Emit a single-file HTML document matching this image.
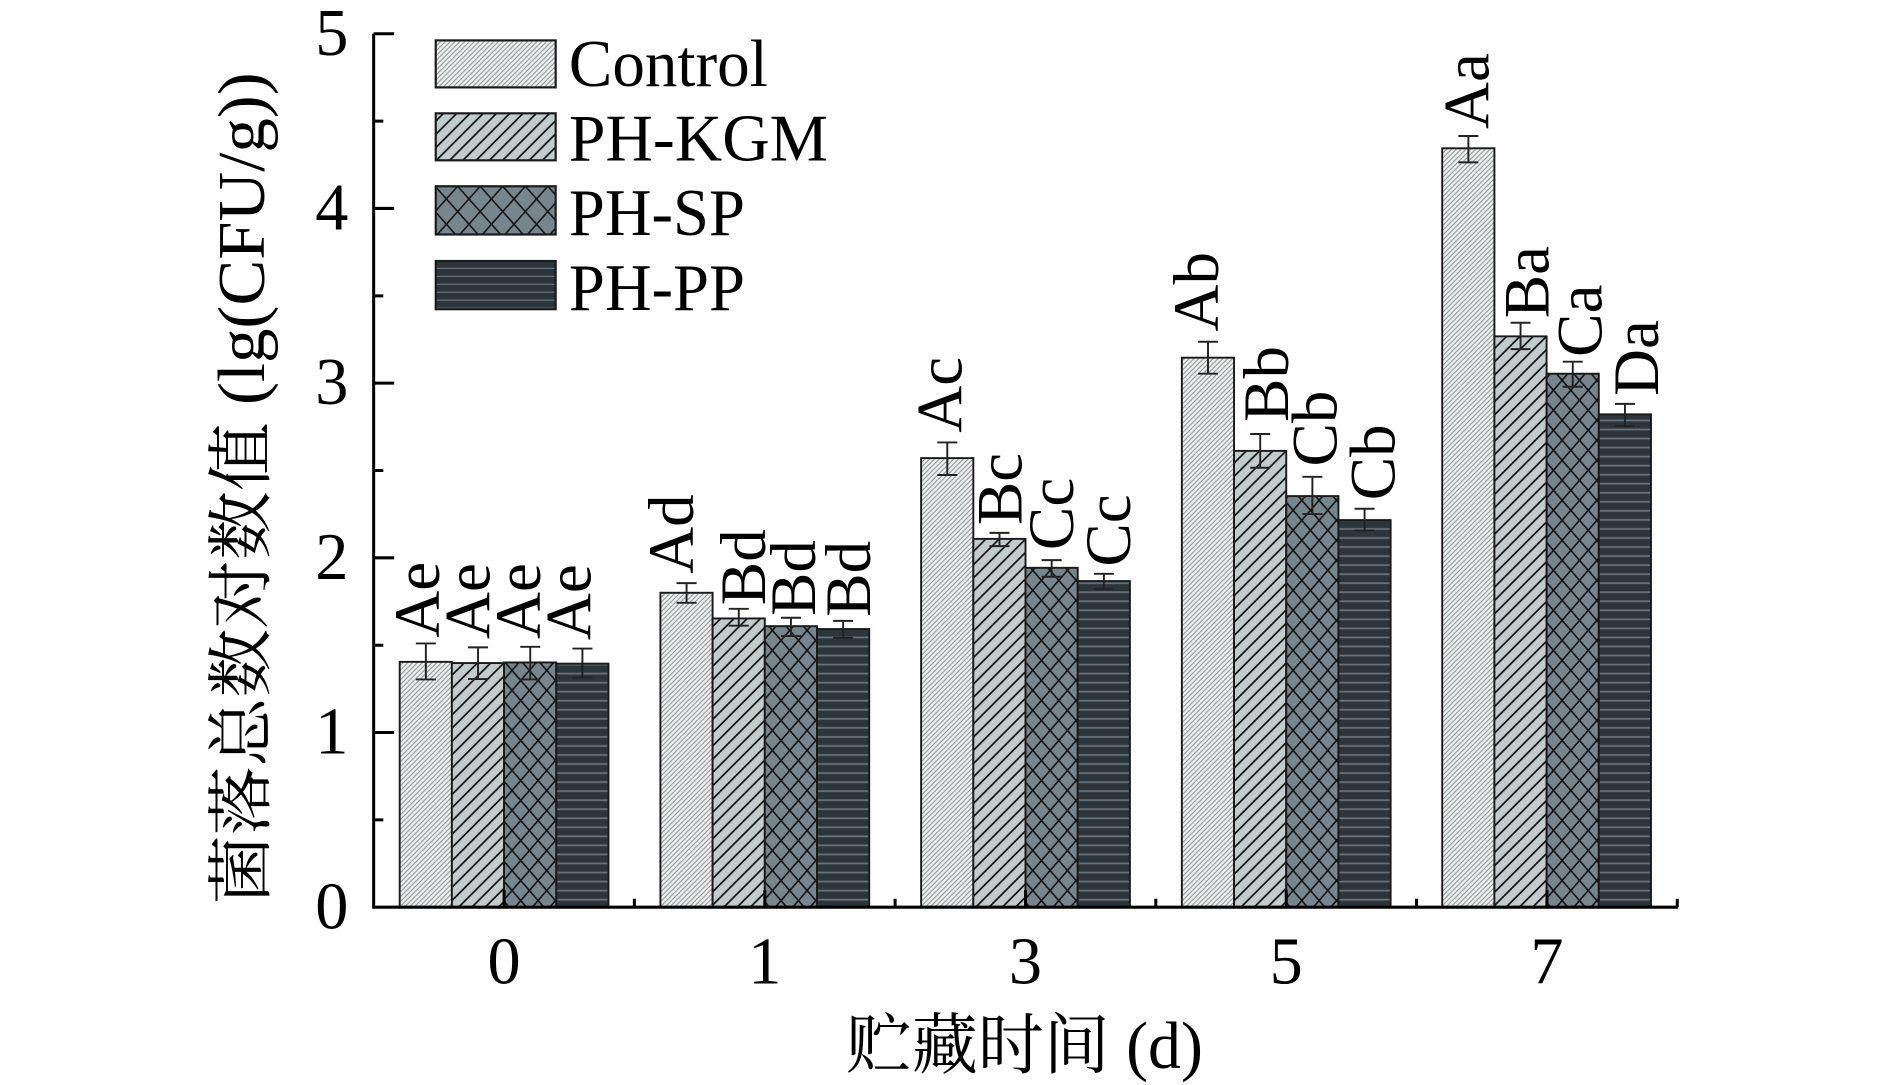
<!DOCTYPE html>
<html>
<head>
<meta charset="utf-8">
<style>
  html, body { margin:0; padding:0; background:#ffffff; }
  svg { display:block; }
  text { font-family: "Liberation Serif", "Noto Serif CJK SC", serif; fill:#000; }
</style>
</head>
<body>
<svg xmlns="http://www.w3.org/2000/svg" width="1890" height="1085" viewBox="0 0 1568 900" preserveAspectRatio="none">
  <defs>
    <pattern id="pCtrl" patternUnits="userSpaceOnUse" width="4" height="4">
      <rect width="4" height="4" fill="#eceeee"/>
      <path d="M0,4 L4,0 M-1,1 L1,-1 M3,5 L5,3" stroke="#8a9292" stroke-width="0.8"/>
    </pattern>
    <pattern id="pKgm" patternUnits="userSpaceOnUse" width="11" height="11">
      <rect width="11" height="11" fill="#c3cccc"/>
      <path d="M0,11 L11,0 M-2,2 L2,-2 M9,13 L13,9" stroke="#111" stroke-width="1.4"/>
    </pattern>
    <pattern id="pSp" patternUnits="userSpaceOnUse" width="14.4" height="16.6">
      <rect width="14.4" height="16.6" fill="#76868c"/>
      <path d="M0,0 L14.4,16.6 M14.4,0 L0,16.6" stroke="#111" stroke-width="1.3"/>
    </pattern>
    <pattern id="pPp" patternUnits="userSpaceOnUse" width="10" height="7.5">
      <rect width="10" height="7.5" fill="#2c353a"/>
      <rect y="3" width="10" height="1.5" fill="#66727a"/>
    </pattern>
    <pattern id="pSpL" patternUnits="userSpaceOnUse" width="18.7" height="21" x="361" y="154.5">
      <rect width="18.7" height="21" fill="#76868c"/>
      <path d="M0,0 L18.7,21 M18.7,0 L0,21" stroke="#111" stroke-width="1.3"/>
    </pattern>
    <pattern id="pPpL" patternUnits="userSpaceOnUse" width="10" height="6.6" x="0" y="216.5">
      <rect width="10" height="6.6" fill="#2c353a"/>
      <rect y="5.6" width="10" height="1.3" fill="#66727a"/>
    </pattern>
  </defs>

  <!-- Bars -->
  <g stroke="#1a1a1a" stroke-width="1.6">
    <!-- group 0 -->
    <rect x="331.6" y="549" width="43.3" height="203.5" fill="url(#pCtrl)"/>
    <rect x="374.9" y="550" width="43.3" height="202.5" fill="url(#pKgm)"/>
    <rect x="418.2" y="549.5" width="43.3" height="203" fill="url(#pSp)"/>
    <rect x="461.5" y="550.5" width="43.3" height="202" fill="url(#pPp)"/>
    <!-- group 1 -->
    <rect x="547.9" y="491.7" width="43.3" height="260.8" fill="url(#pCtrl)"/>
    <rect x="591.2" y="513" width="43.3" height="239.5" fill="url(#pKgm)"/>
    <rect x="634.5" y="519.4" width="43.3" height="233.1" fill="url(#pSp)"/>
    <rect x="677.8" y="521.8" width="43.3" height="230.7" fill="url(#pPp)"/>
    <!-- group 3 -->
    <rect x="764.2" y="380" width="43.3" height="372.5" fill="url(#pCtrl)"/>
    <rect x="807.5" y="447" width="43.3" height="305.5" fill="url(#pKgm)"/>
    <rect x="850.8" y="471" width="43.3" height="281.5" fill="url(#pSp)"/>
    <rect x="894.1" y="482" width="43.3" height="270.5" fill="url(#pPp)"/>
    <!-- group 5 -->
    <rect x="980.5" y="296.7" width="43.3" height="455.8" fill="url(#pCtrl)"/>
    <rect x="1023.8" y="374" width="43.3" height="378.5" fill="url(#pKgm)"/>
    <rect x="1067.1" y="411.5" width="43.3" height="341" fill="url(#pSp)"/>
    <rect x="1110.4" y="431.4" width="43.3" height="321.1" fill="url(#pPp)"/>
    <!-- group 7 -->
    <rect x="1196.5" y="123" width="43.3" height="629.5" fill="url(#pCtrl)"/>
    <rect x="1239.8" y="279" width="43.3" height="473.5" fill="url(#pKgm)"/>
    <rect x="1283.1" y="310" width="43.3" height="442.5" fill="url(#pSp)"/>
    <rect x="1326.4" y="343.7" width="43.3" height="408.8" fill="url(#pPp)"/>
  </g>

  <!-- Error bars -->
  <g stroke="#222" stroke-width="1.6" fill="none">
    <path d="M353.3,533.7 V563.6 M345,533.7 H361.6 M345,563.6 H361.6"/>
    <path d="M396.6,537 V563.3 M388.3,537 H404.9 M388.3,563.3 H404.9"/>
    <path d="M439.9,536.5 V563.6 M431.6,536.5 H448.2 M431.6,563.6 H448.2"/>
    <path d="M483.2,538 V562 M474.9,538 H491.5 M474.9,562 H491.5"/>

    <path d="M569.6,483.7 V500 M561.3,483.7 H577.9 M561.3,500 H577.9"/>
    <path d="M612.9,505 V519 M604.6,505 H621.2 M604.6,519 H621.2"/>
    <path d="M656.2,512.4 V527.6 M647.9,512.4 H664.5 M647.9,527.6 H664.5"/>
    <path d="M699.5,515 V529 M691.2,515 H707.8 M691.2,529 H707.8"/>

    <path d="M785.9,367 V394 M777.6,367 H794.2 M777.6,394 H794.2"/>
    <path d="M829.2,442 V453 M820.9,442 H837.5 M820.9,453 H837.5"/>
    <path d="M872.5,464.6 V478.4 M864.2,464.6 H880.8 M864.2,478.4 H880.8"/>
    <path d="M915.8,476 V488.6 M907.5,476 H924.1 M907.5,488.6 H924.1"/>

    <path d="M1002.2,283.5 V310 M993.9,283.5 H1010.5 M993.9,310 H1010.5"/>
    <path d="M1045.5,360 V388 M1037.2,360 H1053.8 M1037.2,388 H1053.8"/>
    <path d="M1088.8,395.5 V426.4 M1080.5,395.5 H1097.1 M1080.5,426.4 H1097.1"/>
    <path d="M1132.1,422 V440 M1123.8,422 H1140.4 M1123.8,440 H1140.4"/>

    <path d="M1218.2,112.8 V134.7 M1209.9,112.8 H1226.5 M1209.9,134.7 H1226.5"/>
    <path d="M1261.5,267.7 V289.6 M1253.2,267.7 H1269.8 M1253.2,289.6 H1269.8"/>
    <path d="M1304.8,300 V320.8 M1296.5,300 H1313.1 M1296.5,320.8 H1313.1"/>
    <path d="M1348.1,335 V353.4 M1339.8,335 H1356.4 M1339.8,353.4 H1356.4"/>
  </g>

  <!-- Significance labels -->
  <g font-size="54">
    <text transform="translate(364,529) rotate(-90)">Ae</text>
    <text transform="translate(406,530) rotate(-90)">Ae</text>
    <text transform="translate(448,530) rotate(-90)">Ae</text>
    <text transform="translate(490,531) rotate(-90)">Ae</text>

    <text transform="translate(575,476) rotate(-90)">Ad</text>
    <text transform="translate(634.6,502) rotate(-90)">Bd</text>
    <text transform="translate(676,511) rotate(-90)">Bd</text>
    <text transform="translate(721.7,511.6) rotate(-90)">Bd</text>

    <text transform="translate(797.8,359) rotate(-90)">Ac</text>
    <text transform="translate(847.6,435.6) rotate(-90)">Bc</text>
    <text transform="translate(890,456.3) rotate(-90)">Cc</text>
    <text transform="translate(937.5,470) rotate(-90)">Cc</text>

    <text transform="translate(1010.6,275) rotate(-90)">Ab</text>
    <text transform="translate(1068.7,350) rotate(-90)">Bb</text>
    <text transform="translate(1109,387) rotate(-90)">Cb</text>
    <text transform="translate(1157,415) rotate(-90)">Cb</text>

    <text transform="translate(1234.7,107) rotate(-90)">Aa</text>
    <text transform="translate(1284.5,264) rotate(-90)">Ba</text>
    <text transform="translate(1328.7,296) rotate(-90)">Ca</text>
    <text transform="translate(1375.6,328.5) rotate(-90)">Da</text>
  </g>

  <!-- Axes -->
  <g stroke="#000" stroke-width="2.5" fill="none">
    <path d="M310,28 V752.5 H1392"/>
    <!-- y major ticks -->
    <path d="M310,28 H327 M310,172.9 H327 M310,317.8 H327 M310,462.7 H327 M310,607.6 H327"/>
    <!-- y minor ticks -->
    <path d="M310,100.5 H318 M310,245.4 H318 M310,390.3 H318 M310,535.2 H318 M310,680.1 H318"/>
    <!-- x major ticks -->
    <path d="M418.2,752.5 V738.5 M634.5,752.5 V738.5 M850.8,752.5 V738.5 M1067.1,752.5 V738.5 M1283.4,752.5 V738.5"/>
    <!-- x minor ticks -->
    <path d="M526.3,752.5 V745.5 M742.6,752.5 V745.5 M958.9,752.5 V745.5 M1175.2,752.5 V745.5 M1391.5,752.5 V745.5"/>
  </g>

  <!-- y tick labels -->
  <g font-size="55" text-anchor="end">
    <text x="289" y="770">0</text>
    <text x="289" y="625.1">1</text>
    <text x="289" y="480.2">2</text>
    <text x="289" y="335.3">3</text>
    <text x="289" y="190.4">4</text>
    <text x="289" y="45.5">5</text>
  </g>

  <!-- x tick labels -->
  <g font-size="55" text-anchor="middle">
    <text x="418.2" y="816">0</text>
    <text x="634.5" y="816">1</text>
    <text x="850.8" y="816">3</text>
    <text x="1067.1" y="816">5</text>
    <text x="1283.4" y="816">7</text>
  </g>

  <!-- axis titles -->
  <text x="702" y="886" font-size="55" textLength="296" lengthAdjust="spacingAndGlyphs">贮藏时间 (d)</text>
  <text transform="translate(219,405) rotate(-90)" font-size="55" text-anchor="middle" textLength="690" lengthAdjust="spacingAndGlyphs">菌落总数对数值 (lg(CFU/g))</text>

  <!-- Legend -->
  <g stroke="#1a1a1a" stroke-width="1.8">
    <rect x="361.5" y="33.5" width="99.5" height="39" fill="url(#pCtrl)"/>
    <rect x="361.5" y="94" width="99.5" height="39" fill="url(#pKgm)"/>
    <rect x="361.5" y="154.5" width="99.5" height="40" fill="url(#pSpL)"/>
    <rect x="361.5" y="216.5" width="99.5" height="40" fill="url(#pPpL)"/>
  </g>
  <g font-size="55">
    <text x="472" y="71.5" textLength="165" lengthAdjust="spacingAndGlyphs">Control</text>
    <text x="472" y="133" textLength="215" lengthAdjust="spacingAndGlyphs">PH-KGM</text>
    <text x="472" y="195" textLength="146" lengthAdjust="spacingAndGlyphs">PH-SP</text>
    <text x="472" y="257" textLength="146" lengthAdjust="spacingAndGlyphs">PH-PP</text>
  </g>
</svg>
</body>
</html>
